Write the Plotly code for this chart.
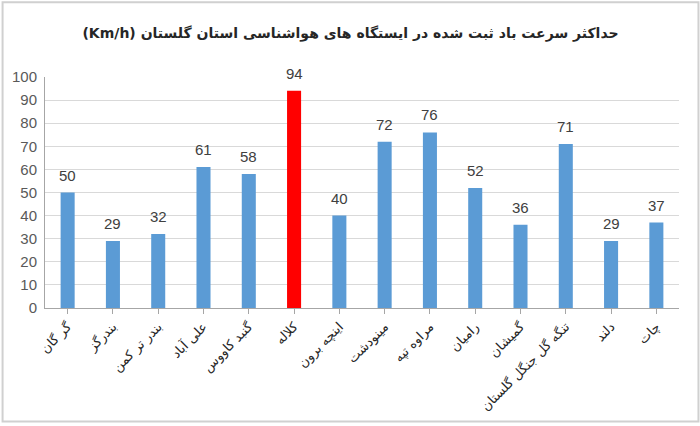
import plotly.graph_objects as go

stations = ["گر گان", "بندرگز", "بندر تر کمن", "علی آباد", "گنبد کاووس", "کلاله",
            "اینچه برون", "مینودشت", "مراوه تپه", "رامیان", "گمیشان",
            "تنگه گل جنگل گلستان", "دلند", "چات"]
speeds = [50, 29, 32, 61, 58, 94, 40, 72, 76, 52, 36, 71, 29, 37]
y_ticks = list(range(0, 101, 10))

colors = ["#ff0000" if v == max(speeds) else "#5b9bd5" for v in speeds]

fig = go.Figure(go.Bar(
    x=stations, y=speeds, marker=dict(color=colors, line=dict(width=0)),
    width=0.31, hoverinfo="x+y",
))

for s, v in zip(stations, speeds):
    fig.add_annotation(x=s, y=v, text=str(v), showarrow=False, yanchor="bottom",
                       yshift=7, font=dict(size=15, color="#404040",
                                           family="Liberation Sans, DejaVu Sans"))

W, H = 700, 426
ml, mr, mt, mb = 44, 21, 77, 116
pw, ph = W - ml - mr, H - mt - mb

def px(x):
    return (x - ml) / pw

def py(y):
    return (H - mb - y) / ph

fig.add_shape(type="rect", xref="paper", yref="paper",
              x0=px(1.5), x1=px(698.5), y0=py(424.5), y1=py(1.5),
              line=dict(color="#d0d0d0", width=2), layer="below")

fig.update_layout(
    width=W, height=H,
    margin=dict(l=ml, r=mr, t=mt, b=mb),
    paper_bgcolor="white", plot_bgcolor="white",
    title=dict(text="<b>(Km/h) حداکثر سرعت باد ثبت شده در ایستگاه های هواشناسی استان گلستان</b>",
               x=px(350), xanchor="center", xref="paper", y=1 - 33 / H, yanchor="middle",
               font=dict(size=14, color="#262626", family="DejaVu Sans")),
    showlegend=False,
    xaxis=dict(tickangle=-45, tickfont=dict(size=13, color="#262626", family="DejaVu Sans"),
               showline=True, linecolor="#a6a6a6", linewidth=1,
               ticks="outside", ticklen=5, tickcolor="#a6a6a6",
               showgrid=False),
    yaxis=dict(range=[0, 100], tickvals=y_ticks, showgrid=True, gridcolor="#d9d9d9",
               showline=True, linecolor="#a6a6a6", linewidth=1, zeroline=False,
               tickfont=dict(size=15, color="#595959", family="Liberation Sans, DejaVu Sans"),
               ticks="", ticklabelstandoff=4),
)

fig.write_html("out.html")
